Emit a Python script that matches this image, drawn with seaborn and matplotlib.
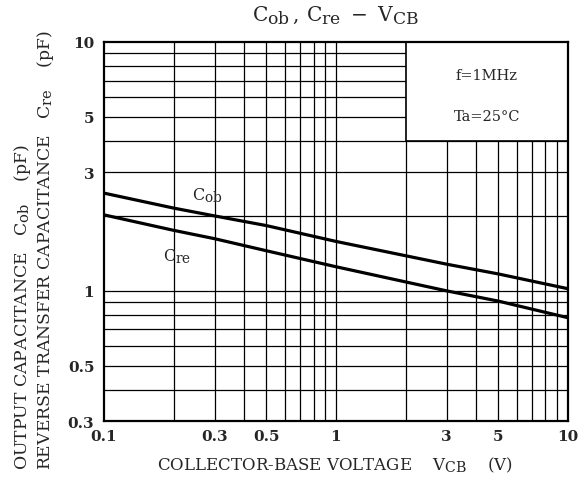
import numpy as np
import pandas as pd
import matplotlib
matplotlib.use("Agg")
import matplotlib.pyplot as plt
from matplotlib.patches import Rectangle
import matplotlib._mathtext as _mt
import seaborn as sns

# Data
vcb = [0.1, 0.2, 0.3, 0.5, 1, 3, 5, 10]
cob = [2.47, 2.15, 2.00, 1.83, 1.58, 1.28, 1.17, 1.02]
cre = [2.02, 1.75, 1.62, 1.45, 1.25, 1.00, 0.91, 0.78]
x_ticks = [0.1, 0.3, 0.5, 1, 3, 5, 10]
x_ticklabels = ["0.1", "0.3", "0.5", "1", "3", "5", "10"]
y_ticks = [0.3, 0.5, 1, 3, 5, 10]
y_ticklabels = ["0.3", "0.5", "1", "3", "5", "10"]
x_grid = [0.2, 0.3, 0.4, 0.5, 0.6, 0.7, 0.8, 0.9, 1, 2, 3, 4, 5, 6, 7, 8, 9]
y_grid = [0.4, 0.5, 0.6, 0.7, 0.8, 0.9, 1, 2, 3, 4, 5, 6, 7, 8, 9]

df = pd.DataFrame({
    "VCB": vcb * 2,
    "C": cob + cre,
    "series": ["Cob"] * len(vcb) + ["Cre"] * len(vcb),
})

# larger subscripts, closer to the reference typography
_mt.SHRINK_FACTOR = 0.85

sns.set_style("white")
plt.rcParams["font.family"] = ["DejaVu Serif"]
plt.rcParams["mathtext.fontset"] = "dejavuserif"

fig = plt.figure(figsize=(5.87, 4.89), dpi=100)
ax = fig.add_axes([0.1772, 0.1370, 0.9676 - 0.1772, 0.9121 - 0.1370])
ax.set_xscale("log")
ax.set_yscale("log")
ax.set_xlim(0.1, 10)
ax.set_ylim(0.3, 10)

for xv in x_grid:
    ax.axvline(xv, color="black", lw=0.9, zorder=1)
for yv in y_grid:
    ax.axhline(yv, color="black", lw=0.9, zorder=1)

# condition box (no grid in it)
ax.add_patch(Rectangle((2, 4), 8, 6, facecolor="white", edgecolor="black",
                       lw=1.2, zorder=2))
ax.text(np.sqrt(20), 7.4, "f=1MHz", ha="center", va="center", fontsize=10.5, zorder=3)
ax.text(np.sqrt(20), 5.05, "Ta=25°C", ha="center", va="center", fontsize=10.5, zorder=3)

sns.lineplot(data=df, x="VCB", y="C", units="series", estimator=None,
             color="black", lw=2.3, ax=ax, zorder=4, legend=False)

ax.text(0.278, 2.43, r"$\mathregular{C_{ob}}$", ha="center", va="center", fontsize=11.5, zorder=3)
ax.text(0.207, 1.38, r"$\mathregular{C_{re}}$", ha="center", va="center", fontsize=11.5, zorder=3)

ax.set_xticks(x_ticks)
ax.set_xticklabels(x_ticklabels, fontsize=11, fontweight="bold")
ax.set_yticks(y_ticks)
ax.set_yticklabels(y_ticklabels, fontsize=11, fontweight="bold")
ax.xaxis.set_minor_locator(matplotlib.ticker.NullLocator())
ax.yaxis.set_minor_locator(matplotlib.ticker.NullLocator())
ax.tick_params(axis="x", length=0, pad=6)
ax.tick_params(axis="y", length=0, pad=7)
ax.set_xlabel("")
ax.set_ylabel("")
for s in ax.spines.values():
    s.set_linewidth(1.6)
    s.set_color("black")
    s.set_zorder(5)

fig.text(0.572, 0.968, r"$\mathregular{C_{ob}\,,\,C_{re}\ -\ V_{CB}}$",
         ha="center", va="center", fontsize=14.5)
fig.text(0.570, 0.048, r"COLLECTOR-BASE VOLTAGE    $\mathregular{V_{CB}}$    (V)",
         ha="center", va="center", fontsize=12)
fig.text(0.038, 0.039, r"OUTPUT CAPACITANCE   $\mathregular{C_{ob}}$    (pF)",
         rotation=90, ha="center", va="bottom", fontsize=12.4)
fig.text(0.077, 0.039, r"REVERSE TRANSFER CAPACITANCE   $\mathregular{C_{re}}$    (pF)",
         rotation=90, ha="center", va="bottom", fontsize=12.4)

fig.savefig("out.png", dpi=100)
